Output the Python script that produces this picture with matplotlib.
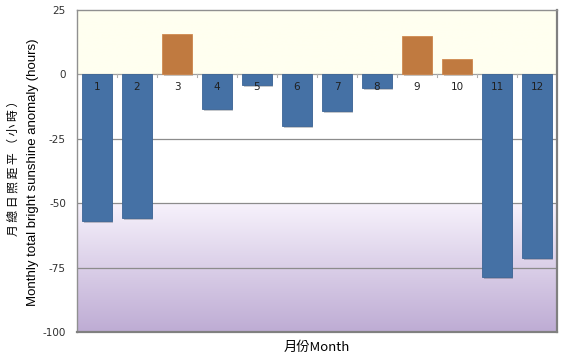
import matplotlib
matplotlib.use("Agg")
import matplotlib.pyplot as plt
import matplotlib.patheffects as pe
import numpy as np

plt.rcParams['font.family'] = ['Noto Sans CJK TC', 'DejaVu Sans']

months = [1, 2, 3, 4, 5, 6, 7, 8, 9, 10, 11, 12]
month_labels = ['1', '2', '3', '4', '5', '6', '7', '8', '9', '10', '11', '12']
anomaly = [-57.1, -55.9, 15.5, -13.6, -4.3, -20.2, -14.4, -5.4, 15.1, 5.8, -78.8, -71.4]
yticks = [25, 0, -25, -50, -75, -100]

fig = plt.figure(figsize=(5.65, 3.63), dpi=100)
ax = fig.add_axes([77/565, 31/363, 480/565, 322/363])
ax.set_xlim(0.5, 12.5)
ax.set_ylim(-100, 25)

# background bands / gradient
ys = np.linspace(25, -100, 500)
img = np.ones((500, 1, 3))
top = np.array([255, 255, 240]) / 255
mid = np.array([255, 255, 255]) / 255
g0 = np.array([247, 242, 252]) / 255
g1 = np.array([190, 172, 212]) / 255
for i, y in enumerate(ys):
    if y >= 0:
        img[i, 0] = top
    elif y >= -50:
        img[i, 0] = mid
    else:
        t = (-50 - y) / 50
        img[i, 0] = g0 * (1 - t) + g1 * t
ax.imshow(img, aspect='auto', extent=[0.5, 12.5, -100, 25], zorder=0)

for y in [-25, -50, -75]:
    ax.axhline(y, color='#8c8c8c', lw=0.9, zorder=1)
ax.axhline(0, color='#a0a0a0', lw=0.9, zorder=1)

colors = ['#4571A5' if v < 0 else '#C07A40' for v in anomaly]
edges = ['#3C6596' if v < 0 else '#D08A50' for v in anomaly]
bars = ax.bar(months, anomaly, width=0.74, color=colors, edgecolor=edges, lw=0.6, zorder=3)
for b in bars:
    b.set_path_effects([pe.SimplePatchShadow(offset=(1.2, -1.2), alpha=0.25), pe.Normal()])

for m, lab in zip(months, month_labels):
    ax.text(m, -5, lab, ha='center', va='center', fontsize=7.5, color='#202020', zorder=4,
            family='DejaVu Sans')

# small tick marks at slot boundaries on zero line
for xb in np.arange(1.5, 12.5, 1):
    ax.plot([xb, xb], [0, -1.2], color='#b0b0b0', lw=0.8, zorder=2)

ax.set_xticks([])
ax.set_yticks(yticks)
ax.set_yticklabels([str(t) for t in yticks], fontsize=7.5, family='DejaVu Sans', color='#303030')
ax.tick_params(axis='y', length=0, pad=8)
for s in ax.spines.values():
    s.set_color('#909090')
    s.set_linewidth(1.0)
ax.spines['right'].set_color('#808080')
ax.spines['bottom'].set_color('#808080')
ax.spines['right'].set_linewidth(1.6)
ax.spines['bottom'].set_linewidth(1.6)

fig.text(33/565, 1 - 172/363, 'Monthly total bright sunshine anomaly (hours)', rotation=90,
         ha='center', va='center', fontsize=9.5, family='Liberation Sans')
fig.text(13/565, 1 - 165/363, '月 總 日 照 距 平 （ 小 時 ）', rotation=90,
         ha='center', va='center', fontsize=8.5)
fig.text(317/565, 1 - 347/363, '月份Month', ha='center', va='center', fontsize=9.5,
         family=['Noto Sans CJK TC', 'Liberation Sans'])

fig.savefig('out.png', dpi=100)
